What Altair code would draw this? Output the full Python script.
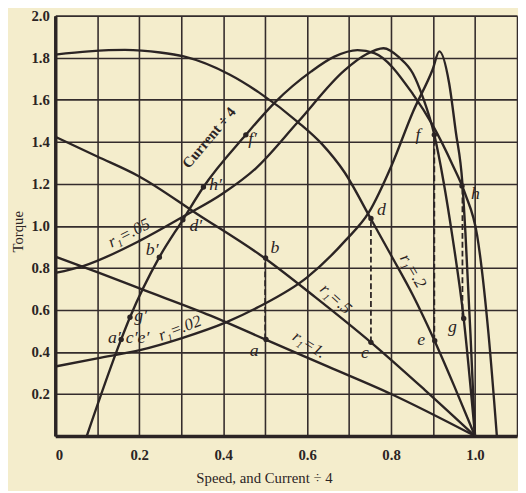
import altair as alt
import pandas as pd

# ---------------- data ----------------
# Torque-speed curves for rotor resistance r1
r1_1_speed = [0, 0.1, 0.204, 0.37, 0.5, 0.65, 0.8, 1.0]
r1_1_torque = [0.854, 0.78, 0.70, 0.573, 0.46, 0.33, 0.2, 0.0]

r1_05_speed = [0, 0.1, 0.2, 0.337, 0.5, 0.62, 0.752, 0.88, 1.0]
r1_05_torque = [1.424, 1.33, 1.235, 1.058, 0.845, 0.66, 0.446, 0.22, 0.0]

r1_02_speed = [0, 0.08, 0.166, 0.25, 0.306, 0.415, 0.485, 0.578, 0.635, 0.689, 0.75, 0.8, 0.852, 0.903, 0.95, 1.0]
r1_02_torque = [1.815, 1.83, 1.837, 1.825, 1.806, 1.72, 1.635, 1.494, 1.39, 1.255, 1.04, 0.86, 0.67, 0.456, 0.24, 0.0]

r1_005_speed = [0, 0.068, 0.204, 0.304, 0.4, 0.478, 0.578, 0.689, 0.74, 0.782, 0.82, 0.852, 0.876, 0.903, 0.925, 0.946, 0.973, 1.0]
r1_005_torque = [0.776, 0.81, 0.932, 1.043, 1.155, 1.274, 1.494, 1.74, 1.815, 1.845, 1.80, 1.725, 1.61, 1.433, 1.21, 0.95, 0.559, 0.0]

r1_002_speed = [0, 0.1, 0.204, 0.3, 0.408, 0.485, 0.6, 0.692, 0.747, 0.802, 0.852, 0.899, 0.915, 0.938, 0.954, 0.97, 0.977, 0.989, 1.0]
r1_002_torque = [0.331, 0.37, 0.41, 0.465, 0.542, 0.615, 0.755, 0.932, 1.064, 1.291, 1.542, 1.744, 1.83, 1.682, 1.45, 1.2, 0.97, 0.49, 0.0]

# Torque against current / 4
current_q = [0.075, 0.157, 0.178, 0.248, 0.304, 0.353, 0.454, 0.524, 0.61, 0.665, 0.72, 0.76, 0.852, 0.899, 0.946, 0.977, 1.005, 1.032, 1.052]
current_torque = [0.0, 0.46, 0.565, 0.851, 1.029, 1.185, 1.433, 1.589, 1.735, 1.805, 1.836, 1.822, 1.627, 1.479, 1.292, 1.15, 0.955, 0.488, 0.0]

# marked points
pt_names = ["a", "b", "c", "d", "e", "f", "g", "h", "a′", "g′", "b′", "d′", "h′", "f′"]
pt_x = [0.502, 0.501, 0.752, 0.752, 0.904, 0.903, 0.973, 0.969, 0.157, 0.178, 0.248, 0.304, 0.353, 0.454]
pt_y = [0.46, 0.847, 0.446, 1.035, 0.454, 1.433, 0.559, 1.19, 0.46, 0.565, 0.851, 1.029, 1.185, 1.433]

# dashed verticals joining point pairs
vl_x = [0.5, 0.752, 0.903, 0.97]
vl_lo = [0.46, 0.446, 0.454, 0.559]
vl_hi = [0.847, 1.035, 1.433, 1.19]

# letter labels
let_text = ["a", "b", "c", "d", "e", "f", "g", "h", "a′", "c′e′", "g′", "b′", "d′", "h′", "f′"]
let_x = [0.474, 0.523, 0.738, 0.777, 0.872, 0.864, 0.946, 1.001, 0.141, 0.196, 0.2035, 0.231, 0.335, 0.382, 0.47]
let_y = [0.405, 0.894, 0.395, 1.074, 0.457, 1.433, 0.52, 1.152, 0.465, 0.465, 0.57, 0.886, 1.0, 1.195, 1.412]

# curve labels
cl_text = ["r₁=.05", "r₁=.02", "r₁=.5", "r₁=1.", "r₁=.2"]
cl_x = [0.176, 0.297, 0.668, 0.605, 0.852]
cl_y = [0.965, 0.512, 0.652, 0.434, 0.785]
cl_angle = [333, 339, 42, 33, 60]

x_ticks = [0, 0.1, 0.2, 0.3, 0.4, 0.5, 0.6, 0.7, 0.8, 0.9, 1.0, 1.1]
y_ticks = [0, 0.2, 0.4, 0.6, 0.8, 1.0, 1.2, 1.4, 1.6, 1.8, 2.0]

# ---------------- build tables ----------------
rows = []
for name, xs_, ys_ in [
    ("r1=1", r1_1_speed, r1_1_torque),
    ("r1=.5", r1_05_speed, r1_05_torque),
    ("r1=.2", r1_02_speed, r1_02_torque),
    ("r1=.05", r1_005_speed, r1_005_torque),
    ("r1=.02", r1_002_speed, r1_002_torque),
    ("current", current_q, current_torque),
]:
    for i, (x, y) in enumerate(zip(xs_, ys_)):
        rows.append({"curve": name, "x": x, "y": y, "i": i})
curves = pd.DataFrame(rows)
points = pd.DataFrame({"name": pt_names, "x": pt_x, "y": pt_y})
vlines = pd.DataFrame({"x": vl_x, "lo": vl_lo, "hi": vl_hi})
letters = pd.DataFrame({"t": let_text, "x": let_x, "y": let_y})
clabels = pd.DataFrame({"t": cl_text, "x": cl_x, "y": cl_y, "a": cl_angle})
cur_label = pd.DataFrame({"t": ["Current ÷ 4"], "x": [0.366], "y": [1.42], "a": [310]})

INK = "#2b2424"
GRID = "#342c2c"
BG = "#f4edcc"
SERIF = "Liberation Serif, DejaVu Serif, serif"

xs = alt.Scale(domain=[0, 1.1], nice=False, zero=False)
ys = alt.Scale(domain=[0, 2.0], nice=False)

x_axis = alt.Axis(
    values=x_ticks, grid=True, gridColor=GRID, gridWidth=1.6, gridOpacity=1,
    domainColor=INK, domainWidth=3.5, ticks=False,
    labelExpr="datum.value < 0.05 ? '0' : ((round(datum.value*10) % 2 == 0 && datum.value < 1.05) ? format(datum.value, '.1f') : '')",
    labelFont=SERIF, labelFontWeight="bold", labelFontSize=15, labelColor=INK, labelPadding=12,
    title="Speed, and Current ÷ 4", titleFont=SERIF, titleFontWeight="normal", titleFontSize=15,
    titleColor=INK, titleX=212, titleY=42, titleAlign="center", titleBaseline="middle",
)
y_axis = alt.Axis(
    values=y_ticks, grid=True, gridColor=GRID, gridWidth=1.6, gridOpacity=1,
    domainColor=INK, domainWidth=3.5, ticks=False,
    labelExpr="datum.value < 0.1 ? '' : format(datum.value, '.1f')",
    labelFont=SERIF, labelFontWeight="bold", labelFontSize=15, labelColor=INK, labelPadding=6,
    title="Torque", titleFont=SERIF, titleFontWeight="normal", titleFontSize=15, titleColor=INK,
    titleX=-38, titleY=219, titleAngle=270, titleAlign="center", titleBaseline="middle",
)

lines = alt.Chart(curves).mark_line(interpolate="monotone", strokeWidth=2.4, color=INK).encode(
    x=alt.X("x:Q", scale=xs, axis=x_axis),
    y=alt.Y("y:Q", scale=ys, axis=y_axis),
    detail="curve:N",
    order="i:Q",
)

rules = alt.Chart(vlines).mark_rule(strokeDash=[6, 3], strokeWidth=1.8, color=INK).encode(
    x=alt.X("x:Q", scale=xs), y=alt.Y("lo:Q", scale=ys), y2="hi:Q"
)

dots = alt.Chart(points).mark_circle(size=30, color=INK, opacity=1).encode(
    x=alt.X("x:Q", scale=xs), y=alt.Y("y:Q", scale=ys)
)

letter_text = alt.Chart(letters).mark_text(
    font=SERIF, fontStyle="italic", fontSize=18, color=INK
).encode(x=alt.X("x:Q", scale=xs), y=alt.Y("y:Q", scale=ys), text="t:N")

curve_text = alt.Chart(clabels).mark_text(
    font=SERIF, fontStyle="italic", fontSize=17, color=INK
).encode(x=alt.X("x:Q", scale=xs), y=alt.Y("y:Q", scale=ys), text="t:N",
         angle=alt.Angle("a:Q", scale=None))

current_text = alt.Chart(cur_label).mark_text(
    font=SERIF, fontWeight="bold", fontSize=15, color=INK
).encode(x=alt.X("x:Q", scale=xs), y=alt.Y("y:Q", scale=ys), text="t:N",
         angle=alt.Angle("a:Q", scale=None))

chart = alt.layer(lines, rules, dots, letter_text, curve_text, current_text).properties(
    width=469, height=427,
    padding={"left": 48, "top": 4, "right": 1, "bottom": 52},
    autosize=alt.AutoSizeParams(type="none"),
    background=BG,
).configure_view(stroke=None)

chart.save("out.html", embed_options={"renderer": "svg", "actions": False})
